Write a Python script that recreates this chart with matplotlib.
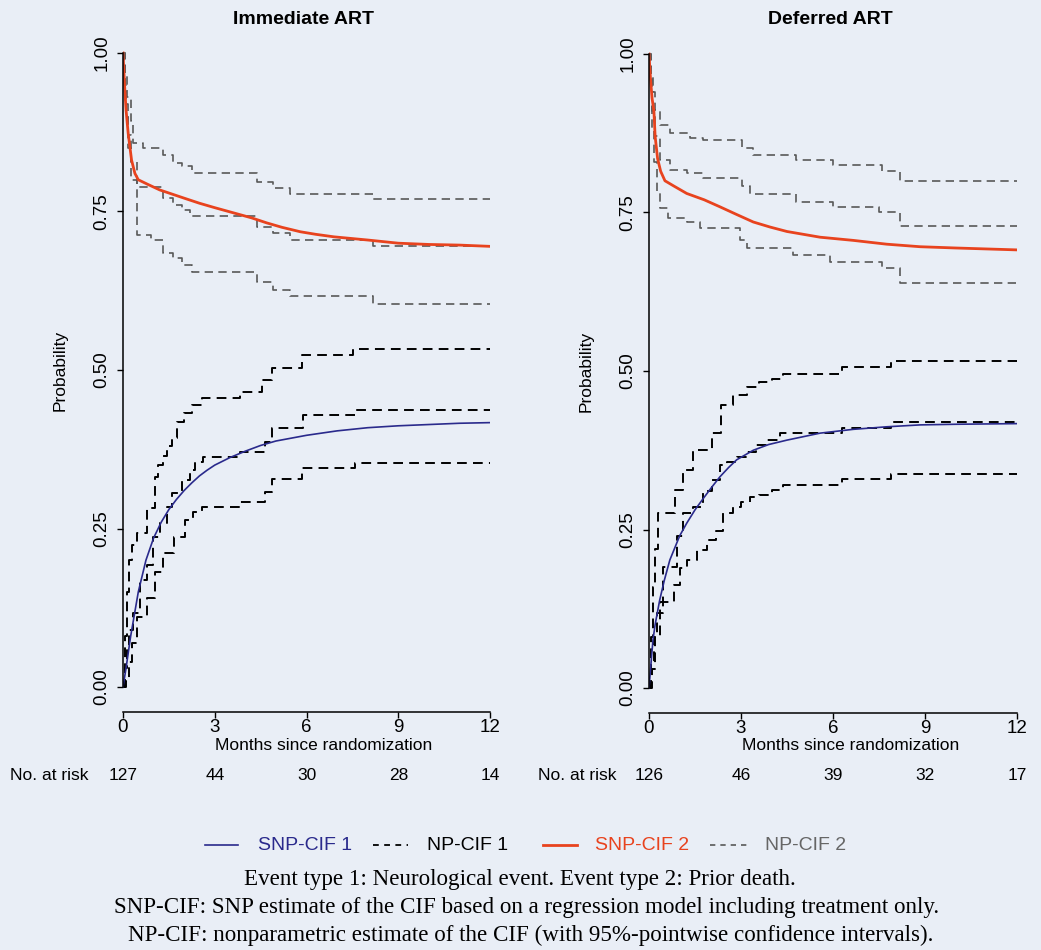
import matplotlib
matplotlib.use("Agg")
import matplotlib.pyplot as plt
from matplotlib.lines import Line2D
from matplotlib.transforms import blended_transform_factory

plt.rcParams['font.family'] = ['Liberation Sans', 'DejaVu Sans']

# ---------------- data ----------------
titles = ["Immediate ART", "Deferred ART"]
xticks = [0, 3, 6, 9, 12]
yticks = [0.0, 0.25, 0.5, 0.75, 1.0]
ytick_labels = ["0.00", "0.25", "0.50", "0.75", "1.00"]
at_risk_imm = [127, 44, 30, 28, 14]
at_risk_def = [126, 46, 39, 32, 17]

# Immediate ART, event 1 (neurological event)
imm_snp1_t = [0, 0.1, 0.25, 0.5, 0.75, 1.0, 1.25, 1.5, 1.75, 2.0, 2.25, 2.5, 2.75, 3.0, 3.5, 4,
              4.5, 5, 6, 7, 8, 9, 10, 11, 12]
imm_snp1 = [0, 0.03, 0.08, 0.15, 0.20, 0.235, 0.26, 0.28, 0.296, 0.31, 0.322, 0.333, 0.342, 0.35,
            0.362, 0.372, 0.381, 0.388, 0.397, 0.404, 0.409, 0.412, 0.414, 0.416, 0.417]
imm_np1_t = [0, 0.05, 0.12, 0.2, 0.34, 0.55, 0.77, 0.99, 1.2, 1.43, 1.59, 1.92, 2.19, 2.35, 2.63,
             3.83, 4.64, 4.86, 5.9, 7.58, 12]
imm_np1 = [0, 0.03, 0.06, 0.09, 0.117, 0.169, 0.192, 0.237, 0.259, 0.284, 0.306, 0.326, 0.342,
           0.355, 0.363, 0.371, 0.387, 0.408, 0.429, 0.437, 0.437]
imm_up1_t = [0, 0.05, 0.12, 0.2, 0.28, 0.45, 0.77, 1.05, 1.15, 1.3, 1.45, 1.6, 1.75, 2.0, 2.25,
             2.57, 3.83, 4.53, 4.86, 5.84, 7.52, 12]
imm_up1 = [0, 0.08, 0.15, 0.2, 0.224, 0.243, 0.282, 0.331, 0.35, 0.365, 0.38, 0.392, 0.418, 0.432,
           0.445, 0.456, 0.465, 0.484, 0.503, 0.524, 0.533, 0.533]
imm_lo1_t = [0, 0.1, 0.2, 0.3, 0.45, 0.77, 1.05, 1.32, 1.66, 2.03, 2.3, 2.57, 3.83, 4.64, 4.86,
             5.84, 7.58, 12]
imm_lo1 = [0, 0.01, 0.04, 0.07, 0.110, 0.140, 0.181, 0.211, 0.237, 0.263, 0.276, 0.284, 0.292,
           0.308, 0.328, 0.345, 0.353, 0.353]

# Immediate ART, event 2 (prior death), shown as 1 - CIF
imm_snp2_t = [0, 0.05, 0.1, 0.17, 0.28, 0.39, 0.5, 0.8, 1.2, 2.0, 2.5, 3.0, 3.6, 4.2, 4.7, 5.2,
              5.8, 6.3, 6.9, 8, 9, 10, 11, 12]
imm_snp2 = [1.0, 0.95, 0.91, 0.873, 0.831, 0.81, 0.80, 0.793, 0.784, 0.771, 0.763, 0.756, 0.748,
            0.740, 0.732, 0.725, 0.718, 0.714, 0.710, 0.705, 0.700, 0.698, 0.697, 0.695]
imm_np2_t = [0, 0.03, 0.08, 0.15, 0.25, 0.45, 1.32, 1.64, 1.92, 2.19, 4.37, 4.92, 5.46, 8.19, 12]
imm_np2 = [1.0, 0.96, 0.92, 0.87, 0.83, 0.789, 0.771, 0.760, 0.752, 0.743, 0.726, 0.716, 0.705,
           0.696, 0.696]
imm_up2_t = [0, 0.05, 0.12, 0.25, 0.34, 0.65, 1.32, 1.64, 1.92, 2.25, 4.37, 4.92, 5.46, 8.19, 12]
imm_up2 = [1.0, 0.97, 0.93, 0.892, 0.858, 0.850, 0.839, 0.826, 0.821, 0.811, 0.797, 0.787, 0.778,
           0.770, 0.770]
imm_lo2_t = [0, 0.05, 0.1, 0.15, 0.25, 0.45, 0.9, 1.32, 1.64, 1.92, 2.25, 4.37, 4.92, 5.46, 8.19, 12]
imm_lo2 = [1.0, 0.95, 0.90, 0.85, 0.80, 0.713, 0.705, 0.684, 0.676, 0.666, 0.655, 0.639, 0.626,
           0.616, 0.604, 0.604]

# Deferred ART, event 1
def_snp1_t = [0, 0.05, 0.13, 0.2, 0.35, 0.5, 0.68, 1.0, 1.23, 1.5, 1.77, 2.05, 2.31, 2.6, 2.86,
              3.4, 3.9, 4.5, 5.58, 6.66, 7.75, 8.84, 10, 12]
def_snp1 = [0, 0.03, 0.076, 0.10, 0.139, 0.17, 0.202, 0.240, 0.260, 0.281, 0.299, 0.317, 0.333,
            0.348, 0.360, 0.375, 0.384, 0.391, 0.402, 0.408, 0.412, 0.415, 0.416, 0.417]
def_np1_t = [0, 0.08, 0.15, 0.25, 0.46, 0.9, 1.12, 1.44, 1.77, 2.04, 2.31, 2.55, 2.86, 3.2, 3.5,
             3.84, 4.28, 6.3, 7.9, 12]
def_np1 = [0, 0.04, 0.08, 0.118, 0.191, 0.239, 0.276, 0.286, 0.310, 0.328, 0.352, 0.357, 0.365,
           0.373, 0.383, 0.391, 0.402, 0.410, 0.420, 0.420]
def_up1_t = [0, 0.05, 0.12, 0.2, 0.3, 0.85, 1.12, 1.44, 2.04, 2.36, 2.75, 3.2, 3.6, 4.0, 4.37,
             6.3, 7.9, 12]
def_up1 = [0, 0.08, 0.16, 0.22, 0.276, 0.312, 0.344, 0.375, 0.402, 0.446, 0.462, 0.475, 0.483,
           0.488, 0.496, 0.507, 0.516, 0.516]
def_lo1_t = [0, 0.1, 0.2, 0.35, 0.8, 1.0, 1.23, 1.55, 1.88, 2.2, 2.42, 2.75, 3.0, 3.3, 3.6, 4.0,
             4.37, 6.3, 7.9, 12]
def_lo1 = [0, 0.03, 0.08, 0.136, 0.162, 0.189, 0.202, 0.218, 0.233, 0.247, 0.276, 0.286, 0.294,
           0.302, 0.305, 0.312, 0.320, 0.329, 0.338, 0.338]

# Deferred ART, event 2, shown as 1 - CIF
def_snp2_t = [0, 0.05, 0.1, 0.16, 0.2, 0.28, 0.38, 0.52, 0.8, 1.23, 1.8, 2.31, 2.85, 3.4, 3.95,
              4.5, 5.58, 6.66, 7.75, 8.84, 10, 12]
def_snp2 = [1.0, 0.96, 0.93, 0.91, 0.87, 0.835, 0.815, 0.800, 0.792, 0.780, 0.770, 0.759, 0.747,
            0.735, 0.727, 0.720, 0.711, 0.706, 0.700, 0.696, 0.694, 0.691]
def_np2_t = [0, 0.04, 0.1, 0.2, 0.35, 0.68, 1.23, 1.77, 3.03, 3.3, 4.8, 6.0, 7.5, 8.2, 12]
def_np2 = [1.0, 0.96, 0.91, 0.87, 0.833, 0.817, 0.812, 0.805, 0.791, 0.779, 0.767, 0.758, 0.750,
           0.729, 0.729]
def_up2_t = [0, 0.05, 0.12, 0.2, 0.35, 0.68, 1.33, 1.77, 3.03, 3.4, 4.8, 6.0, 7.6, 8.2, 12]
def_up2 = [1.0, 0.97, 0.94, 0.912, 0.888, 0.875, 0.867, 0.864, 0.851, 0.841, 0.833, 0.825, 0.816,
           0.799, 0.799]
def_lo2_t = [0, 0.05, 0.1, 0.15, 0.25, 0.35, 0.62, 1.23, 1.66, 2.97, 3.2, 4.7, 5.9, 7.6, 8.2, 12]
def_lo2 = [1.0, 0.94, 0.88, 0.83, 0.780, 0.757, 0.741, 0.735, 0.725, 0.707, 0.694, 0.683, 0.672,
           0.662, 0.638, 0.638]

legend_labels = ["SNP-CIF 1", "NP-CIF 1", "SNP-CIF 2", "NP-CIF 2"]
caption = ["Event type 1: Neurological event. Event type 2: Prior death.",
           "SNP-CIF: SNP estimate of the CIF based on a regression model including treatment only.",
           "NP-CIF: nonparametric estimate of the CIF (with 95%-pointwise confidence intervals)."]

# ---------------- style ----------------
BG = "#e9eef6"
BLUE = "#2a2a8c"
RED = "#e8431e"
GRAY = "#585858"
W, H = 1041, 950
FS = 12.5
TFS = 13.5

fig = plt.figure(figsize=(W / 100, H / 100), dpi=100, facecolor=BG)

panels = [
    dict(title=titles[0], risk=at_risk_imm, left=123, right=490, top=27.6, bottom=712.4,
         snp1=(imm_snp1_t, imm_snp1), np1=(imm_np1_t, imm_np1), up1=(imm_up1_t, imm_up1),
         lo1=(imm_lo1_t, imm_lo1), snp2=(imm_snp2_t, imm_snp2), np2=(imm_np2_t, imm_np2),
         up2=(imm_up2_t, imm_up2), lo2=(imm_lo2_t, imm_lo2), xlab_x=324, risk_lab_x=10,
         ylab_x=68),
    dict(title=titles[1], risk=at_risk_def, left=649, right=1017, top=28.6, bottom=713.4,
         snp1=(def_snp1_t, def_snp1), np1=(def_np1_t, def_np1), up1=(def_up1_t, def_up1),
         lo1=(def_lo1_t, def_lo1), snp2=(def_snp2_t, def_snp2), np2=(def_np2_t, def_np2),
         up2=(def_up2_t, def_up2), lo2=(def_lo2_t, def_lo2), xlab_x=851, risk_lab_x=538,
         ylab_x=594),
]

dash_blk = dict(color="black", lw=1.4, dashes=(5, 3.2), drawstyle="steps-post")
dash_gry = dict(color=GRAY, lw=1.2, dashes=(5, 3.2), drawstyle="steps-post")

for p in panels:
    ax = fig.add_axes([p["left"] / W, 1 - p["bottom"] / H,
                       (p["right"] - p["left"]) / W, (p["bottom"] - p["top"]) / H])
    ax.set_facecolor("none")
    ax.set_xlim(0, 12)
    ax.set_ylim(-0.04, 1.04)
    for s in ["top", "right"]:
        ax.spines[s].set_visible(False)
    ax.spines["left"].set_bounds(0, 1)
    ax.spines["bottom"].set_bounds(0, 12)
    for s in ["left", "bottom"]:
        ax.spines[s].set_linewidth(1.1)

    # event 2 (upper)
    ax.plot(*p["up2"], **dash_gry)
    ax.plot(*p["lo2"], **dash_gry)
    ax.plot(*p["np2"], **dash_gry)
    ax.plot(*p["snp2"], color=RED, lw=2.0)
    # event 1 (lower)
    ax.plot(*p["up1"], **dash_blk)
    ax.plot(*p["lo1"], **dash_blk)
    ax.plot(*p["np1"], **dash_blk)
    ax.plot(*p["snp1"], color=BLUE, lw=1.2)

    ax.set_xticks(xticks)
    ax.set_xticklabels([str(v) for v in xticks], fontsize=TFS)
    ax.set_yticks(yticks)
    ax.set_yticklabels(ytick_labels, fontsize=TFS, rotation=90, va="center")
    ax.tick_params(axis="both", length=4, width=1.0, color="black")
    ax.tick_params(axis="x", pad=1)
    ax.tick_params(axis="y", pad=5)

    fig.text(((p["left"] + p["right"]) / 2 - 3) / W, 1 - 20 / H, p["title"], fontsize=14,
             fontweight="bold", ha="center", va="center")

    ax.set_ylabel("Probability", fontsize=FS)
    ax.yaxis.set_label_coords((p["ylab_x"] - p["left"]) / (p["right"] - p["left"]), 0.5)

    fig.text(p["xlab_x"] / W, 1 - 745 / H, "Months since randomization", fontsize=FS,
             ha="center", va="center")
    tr = blended_transform_factory(ax.transData, fig.transFigure)
    for xv, n in zip(xticks, p["risk"]):
        ax.text(xv, 1 - 775 / H, str(n), transform=tr, fontsize=FS, ha="center", va="center")
    fig.text(p["risk_lab_x"] / W, 1 - 775 / H, "No. at risk", fontsize=FS, ha="left",
             va="center")

# legend (placed manually to match the reference spacing)
leg_y = 1 - 845 / H
leg_items = [
    (dict(color=BLUE, lw=1.2), 205, 238, 258, BLUE),
    (dict(color="black", lw=1.3, dashes=(3.2, 3.0)), 373, 408, 427, "black"),
    (dict(color=RED, lw=2.0), 543, 577, 595, RED),
    (dict(color=GRAY, lw=1.2, dashes=(3.2, 3.0)), 710, 747, 765, "#666666"),
]
for (style, x0, x1, xt, tcol), lab in zip(leg_items, legend_labels):
    fig.add_artist(Line2D([x0 / W, x1 / W], [leg_y, leg_y], transform=fig.transFigure, **style))
    fig.text(xt / W, leg_y, lab, fontsize=14, color=tcol, ha="left", va="center")

# caption
cap_y = [880, 907, 935]
cap_x = [520, 527, 531]
for line, yy, xx in zip(caption, cap_y, cap_x):
    fig.text(xx / W, 1 - yy / H, line, fontsize=16.6, family="Liberation Serif",
             ha="center", va="center")

fig.savefig("out.png", dpi=100, facecolor=BG)
